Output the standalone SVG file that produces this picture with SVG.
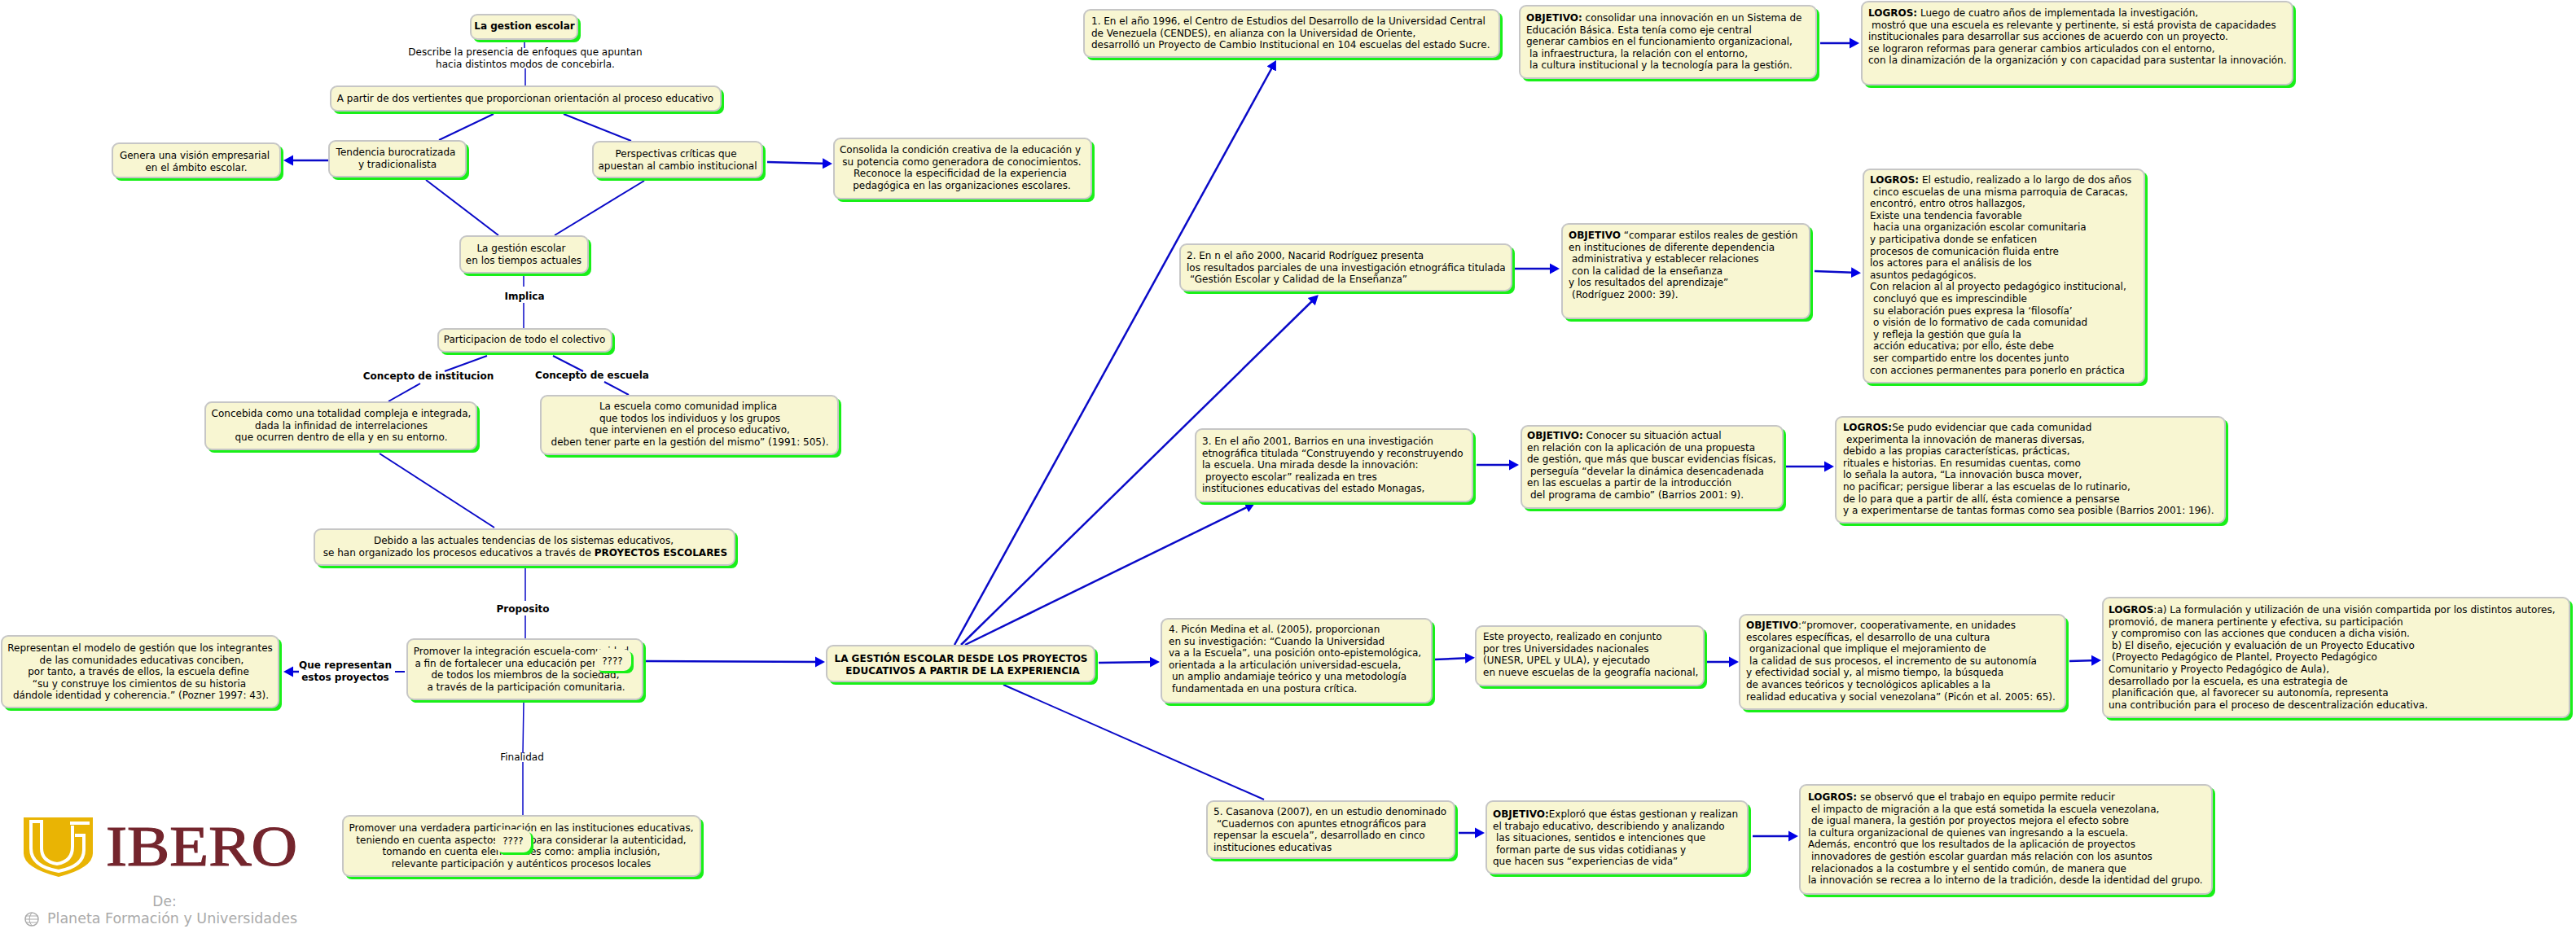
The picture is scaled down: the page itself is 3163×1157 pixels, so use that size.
<svg xmlns="http://www.w3.org/2000/svg" width="3163" height="1157" viewBox="0 0 3163 1157">
<style>
text{font-family:"DejaVu Sans","Liberation Sans",sans-serif;font-size:12px;fill:#000}
.c{text-anchor:middle}
.b{font-weight:bold;fill:#000}
.sh{fill:#18f018}
.box{fill:#f8f6d2;stroke:#c6c6c6;stroke-width:2}
.l{fill:none;stroke:#0a0ac8;stroke-width:2}
.t{fill:none;stroke:#0a0ac8;stroke-width:1.5}
.a{marker-end:url(#ah);stroke-width:2.5}
</style>
<defs>
<marker id="ah" markerUnits="userSpaceOnUse" markerWidth="14" markerHeight="15" refX="8" refY="7" orient="auto" viewBox="0 0 14 15"><path d="M0,0.5L12,7L0,13.5Z" fill="#0000e6"/></marker>
</defs>
<rect width="3163" height="1157" fill="#fff"/>
<g id="connectors">
<path class="t" d="M644,50V59M645,84V105"/>
<path class="l" d="M606,140L539,172M692,140L775,173M523,221L612,289M791,222L681,289"/>
<path class="t" d="M643,338V352M643,372V403"/>
<path class="l" d="M598,437L546,456M516,471L477,493M679,437L716,456M742,469L772,485M466,557L607,648"/>
<path class="t" d="M645,698V738M645,756V784M643,863L642,925M642,936V1001"/>
<path class="l a" d="M403,197H352"/>
<path class="l a" d="M942,199L1018,201"/>
<path class="l" d="M497,825H485"/>
<path class="l a" d="M367,825H352"/>
<path class="l a" d="M793,812L1009,813"/>
<path class="l a" d="M1172,792L1565,77.5"/>
<path class="l a" d="M1180,792L1616,365"/>
<path class="l a" d="M1185,792L1537.4,619.8"/>
<path class="l a" d="M1349,814L1420,813"/>
<path class="l" d="M1232,841L1552,982"/>
<path class="l a" d="M1860,330H1911"/>
<path class="l a" d="M2235,53H2279"/>
<path class="l a" d="M2228,333L2281,335"/>
<path class="l a" d="M1813,571H1861"/>
<path class="l a" d="M2193,573H2248"/>
<path class="l a" d="M1762,810L1807,808"/>
<path class="l a" d="M2095,813H2131"/>
<path class="l a" d="M2541,812L2576,811"/>
<path class="l a" d="M1791,1023H1819"/>
<path class="l a" d="M2152,1027H2204"/>
</g>
<g id="labels">
<text class="c" x="645" y="68">Describe la presencia de enfoques que apuntan<tspan x="645" dy="14.6">hacia distintos modos de concebirla.</tspan></text>
<text class="c b" x="644" y="368">Implica</text>
<text class="c b" x="526" y="466">Concepto de institucion</text>
<text class="c b" x="727" y="465">Concepto de escuela</text>
<text class="c b" x="642" y="752">Proposito</text>
<text class="c b" x="424" y="821">Que representan<tspan x="424" dy="14.6">estos proyectos</tspan></text>
<text class="c" x="641" y="934">Finalidad</text>
</g>
<g id="n1"><rect class="sh" x="581" y="21" width="132" height="31" rx="8"/><rect class="box" x="578" y="18" width="131" height="30" rx="8"/><text class="c b" x="644" y="36">La gestion escolar</text></g>
<g id="n2"><rect class="sh" x="409" y="109" width="480" height="31" rx="8"/><rect class="box" x="406" y="106" width="479" height="30" rx="8"/><text class="c" x="645" y="125">A partir de dos vertientes que proporcionan orientación al proceso educativo</text></g>
<g id="n3"><rect class="sh" x="407" y="176" width="169" height="45" rx="8"/><rect class="box" x="404" y="173" width="168" height="44" rx="8"/><text class="c" x="486" y="191">Tendencia burocratizada<tspan x="488" dy="14.6">y tradicionalista</tspan></text></g>
<g id="n4"><rect class="sh" x="141" y="179" width="207" height="43" rx="8"/><rect class="box" x="138" y="176" width="206" height="42" rx="8"/><text class="c" x="239" y="195">Genera una visión empresarial<tspan x="241" dy="14.6">en el ámbito escolar.</tspan></text></g>
<g id="n5"><rect class="sh" x="731" y="177" width="209" height="45" rx="8"/><rect class="box" x="728" y="174" width="208" height="44" rx="8"/><text class="c" x="830" y="193">Perspectivas críticas que<tspan x="832" dy="14.6">apuestan al cambio institucional</tspan></text></g>
<g id="n6"><rect class="sh" x="1027" y="173" width="317" height="75" rx="8"/><rect class="box" x="1024" y="170" width="316" height="74" rx="8"/><text class="c" x="1179" y="188">Consolida la condición creativa de la educación y<tspan x="1181" dy="14.6">su potencia como generadora de conocimientos.</tspan><tspan x="1179" dy="14.6">Reconoce la especificidad de la experiencia</tspan><tspan x="1181" dy="14.6">pedagógica en las organizaciones escolares.</tspan></text></g>
<g id="n7"><rect class="sh" x="568" y="293" width="158" height="46" rx="8"/><rect class="box" x="565" y="290" width="157" height="45" rx="8"/><text class="c" x="640" y="309">La gestión escolar<tspan x="643" dy="14.6">en los tiempos actuales</tspan></text></g>
<g id="n8"><rect class="sh" x="541" y="407" width="214" height="29" rx="8"/><rect class="box" x="538" y="404" width="213" height="28" rx="8"/><text class="c" x="644" y="421">Participacion de todo el colectivo</text></g>
<g id="n9"><rect class="sh" x="255" y="497" width="334" height="59" rx="8"/><rect class="box" x="252" y="494" width="333" height="58" rx="8"/><text class="c" x="419" y="512">Concebida como una totalidad compleja e integrada,<tspan x="419" dy="14.6">dada la infinidad de interrelaciones</tspan><tspan x="419" dy="14.6">que ocurren dentro de ella y en su entorno.</tspan></text></g>
<g id="n10"><rect class="sh" x="667" y="489" width="366" height="73" rx="8"/><rect class="box" x="664" y="486" width="365" height="72" rx="8"/><text class="c" x="845" y="503">La escuela como comunidad implica<tspan x="847" dy="14.6">que todos los individuos y los grupos</tspan><tspan x="847" dy="14.6">que intervienen en el proceso educativo,</tspan><tspan x="847" dy="14.6">deben tener parte en la gestión del mismo” (1991: 505).</tspan></text></g>
<g id="n11"><rect class="sh" x="389" y="653" width="517" height="45" rx="8"/><rect class="box" x="386" y="650" width="516" height="44" rx="8"/><text class="c" x="643" y="668">Debido a las actuales tendencias de los sistemas educativos,<tspan x="645" dy="14.6">se han organizado los procesos educativos a través de <tspan class="b">PROYECTOS ESCOLARES</tspan></tspan></text></g>
<g id="n12"><rect class="sh" x="5" y="784" width="341" height="89" rx="8"/><rect class="box" x="2" y="781" width="340" height="88" rx="8"/><text class="c" x="172" y="800">Representan el modelo de gestión que los integrantes<tspan x="174" dy="14.6">de las comunidades educativas conciben,</tspan><tspan x="170" dy="14.6">por tanto, a través de ellos, la escuela define</tspan><tspan x="171" dy="14.6">“su y construye los cimientos de su historia</tspan><tspan x="173" dy="14.6">dándole identidad y coherencia.” (Pozner 1997: 43).</tspan></text></g>
<g id="n13"><rect class="sh" x="503" y="788" width="290" height="75" rx="8"/><rect class="box" x="500" y="785" width="289" height="74" rx="8"/><text class="c" x="640" y="804">Promover la integración escuela-comunidad<tspan x="642" dy="14.6">a fin de fortalecer una educación pertinente</tspan><tspan x="645" dy="14.6">de todos los miembros de la sociedad,</tspan><tspan x="646" dy="14.6">a través de la participación comunitaria.</tspan></text></g>
<g id="n14"><rect class="sh" x="734" y="800" width="44" height="27" rx="8"/><rect class="box" style="stroke:#f8f6d2" x="731" y="798" width="43" height="25" rx="8"/><text class="c" x="752" y="816">????</text></g>
<g id="n15"><rect class="sh" x="424" y="1005" width="440" height="75" rx="8"/><rect class="box" x="421" y="1002" width="439" height="74" rx="8"/><text class="c" x="640" y="1021">Promover una verdadera participación en las instituciones educativas,<tspan x="640" dy="14.6">teniendo en cuenta aspectos clave para considerar la autenticidad,</tspan><tspan x="640" dy="14.6">tomando en cuenta elementales como: amplia inclusión,</tspan><tspan x="640" dy="14.6">relevante participación y auténticos procesos locales</tspan></text></g>
<g id="n16"><rect class="sh" x="612" y="1022" width="43" height="28" rx="8"/><rect class="box" style="stroke:#f8f6d2" x="609" y="1020" width="42" height="26" rx="8"/><text class="c" x="630" y="1037">????</text></g>
<g id="n17"><rect class="sh" x="1018" y="796" width="330" height="45" rx="8"/><rect class="box" x="1015" y="793" width="329" height="44" rx="8"/><text class="c b" x="1180" y="813">LA GESTIÓN ESCOLAR DESDE LOS PROYECTOS<tspan x="1182" dy="15">EDUCATIVOS A PARTIR DE LA EXPERIENCIA</tspan></text></g>
<g id="n18"><rect class="sh" x="1334" y="15" width="511" height="59" rx="8"/><rect class="box" x="1331" y="12" width="510" height="58" rx="8"/><text x="1340" y="30">1. En el año 1996, el Centro de Estudios del Desarrollo de la Universidad Central<tspan x="1340" dy="14.6">de Venezuela (CENDES), en alianza con la Universidad de Oriente,</tspan><tspan x="1340" dy="14.6">desarrolló un Proyecto de Cambio Institucional en 104 escuelas del estado Sucre.</tspan></text></g>
<g id="n19"><rect class="sh" x="1869" y="10" width="365" height="90" rx="8"/><rect class="box" x="1866" y="7" width="364" height="89" rx="8"/><text x="1874" y="26"><tspan class="b">OBJETIVO:</tspan> consolidar una innovación en un Sistema de<tspan x="1874" dy="14.6">Educación Básica. Esta tenía como eje central</tspan><tspan x="1874" dy="14.6">generar cambios en el funcionamiento organizacional,</tspan><tspan x="1878" dy="14.6">la infraestructura, la relación con el entorno,</tspan><tspan x="1878" dy="14.6">la cultura institucional y la tecnología para la gestión.</tspan></text></g>
<g id="n20"><rect class="sh" x="2289" y="5" width="530" height="103" rx="8"/><rect class="box" x="2286" y="2" width="529" height="102" rx="8"/><text x="2294" y="20"><tspan class="b">LOGROS:</tspan> Luego de cuatro años de implementada la investigación,<tspan x="2298" dy="14.6">mostró que una escuela es relevante y pertinente, si está provista de capacidades</tspan><tspan x="2294" dy="14.6">institucionales para desarrollar sus acciones de acuerdo con un proyecto.</tspan><tspan x="2294" dy="14.6">se lograron reformas para generar cambios articulados con el entorno,</tspan><tspan x="2294" dy="14.6">con la dinamización de la organización y con capacidad para sustentar la innovación.</tspan></text></g>
<g id="n21"><rect class="sh" x="1452" y="303" width="408" height="58" rx="8"/><rect class="box" x="1449" y="300" width="407" height="57" rx="8"/><text x="1457" y="318">2. En n el año 2000, Nacarid Rodríguez presenta<tspan x="1457" dy="14.6">los resultados parciales de una investigación etnográfica titulada</tspan><tspan x="1461" dy="14.6">“Gestión Escolar y Calidad de la Enseñanza”</tspan></text></g>
<g id="n22"><rect class="sh" x="1921" y="278" width="305" height="117" rx="8"/><rect class="box" x="1918" y="275" width="304" height="116" rx="8"/><text x="1926" y="293"><tspan class="b">OBJETIVO</tspan> “comparar estilos reales de gestión<tspan x="1926" dy="14.6">en instituciones de diferente dependencia</tspan><tspan x="1930" dy="14.6">administrativa y establecer relaciones</tspan><tspan x="1930" dy="14.6">con la calidad de la enseñanza</tspan><tspan x="1926" dy="14.6">y los resultados del aprendizaje”</tspan><tspan x="1930" dy="14.6">(Rodríguez 2000: 39).</tspan></text></g>
<g id="n23"><rect class="sh" x="2291" y="211" width="346" height="263" rx="8"/><rect class="box" x="2288" y="208" width="345" height="262" rx="8"/><text x="2296" y="225"><tspan class="b">LOGROS:</tspan> El estudio, realizado a lo largo de dos años<tspan x="2300" dy="14.6">cinco escuelas de una misma parroquia de Caracas,</tspan><tspan x="2296" dy="14.6">encontró, entro otros hallazgos,</tspan><tspan x="2296" dy="14.6">Existe una tendencia favorable</tspan><tspan x="2300" dy="14.6">hacia una organización escolar comunitaria</tspan><tspan x="2296" dy="14.6">y participativa donde se enfaticen</tspan><tspan x="2296" dy="14.6">procesos de comunicación fluida entre</tspan><tspan x="2296" dy="14.6">los actores para el análisis de los</tspan><tspan x="2296" dy="14.6">asuntos pedagógicos.</tspan><tspan x="2296" dy="14.6">Con relacion al al proyecto pedagógico institucional,</tspan><tspan x="2300" dy="14.6">concluyó que es imprescindible</tspan><tspan x="2300" dy="14.6">su elaboración pues expresa la ‘filosofía’</tspan><tspan x="2300" dy="14.6">o visión de lo formativo de cada comunidad</tspan><tspan x="2300" dy="14.6">y refleja la gestión que guía la</tspan><tspan x="2300" dy="14.6">acción educativa; por ello, éste debe</tspan><tspan x="2300" dy="14.6">ser compartido entre los docentes junto</tspan><tspan x="2296" dy="14.6">con acciones permanentes para ponerlo en práctica</tspan></text></g>
<g id="n24"><rect class="sh" x="1471" y="530" width="341" height="90" rx="8"/><rect class="box" x="1468" y="527" width="340" height="89" rx="8"/><text x="1476" y="546">3. En el año 2001, Barrios en una investigación<tspan x="1476" dy="14.6">etnográfica titulada “Construyendo y reconstruyendo</tspan><tspan x="1476" dy="14.6">la escuela. Una mirada desde la innovación:</tspan><tspan x="1480" dy="14.6">proyecto escolar” realizada en tres</tspan><tspan x="1476" dy="14.6">instituciones educativas del estado Monagas,</tspan></text></g>
<g id="n25"><rect class="sh" x="1871" y="526" width="322" height="102" rx="8"/><rect class="box" x="1868" y="523" width="321" height="101" rx="8"/><text x="1875" y="539"><tspan class="b">OBJETIVO:</tspan> Conocer su situación actual<tspan x="1875" dy="14.6">en relación con la aplicación de una propuesta</tspan><tspan x="1875" dy="14.6">de gestión, que más que buscar evidencias físicas,</tspan><tspan x="1879" dy="14.6">perseguía “develar la dinámica desencadenada</tspan><tspan x="1875" dy="14.6">en las escuelas a partir de la introducción</tspan><tspan x="1879" dy="14.6">del programa de cambio” (Barrios 2001: 9).</tspan></text></g>
<g id="n26"><rect class="sh" x="2257" y="515" width="479" height="131" rx="8"/><rect class="box" x="2254" y="512" width="478" height="130" rx="8"/><text x="2263" y="529"><tspan class="b">LOGROS:</tspan>Se pudo evidenciar que cada comunidad<tspan x="2267" dy="14.6">experimenta la innovación de maneras diversas,</tspan><tspan x="2263" dy="14.6">debido a las propias características, prácticas,</tspan><tspan x="2263" dy="14.6">rituales e historias. En resumidas cuentas, como</tspan><tspan x="2263" dy="14.6">lo señala la autora, “La innovación busca mover,</tspan><tspan x="2263" dy="14.6">no pacificar; persigue liberar a las escuelas de lo rutinario,</tspan><tspan x="2263" dy="14.6">de lo para que a partir de allí, ésta comience a pensarse</tspan><tspan x="2263" dy="14.6">y a experimentarse de tantas formas como sea posible (Barrios 2001: 196).</tspan></text></g>
<g id="n27"><rect class="sh" x="1429" y="763" width="333" height="104" rx="8"/><rect class="box" x="1426" y="760" width="332" height="103" rx="8"/><text x="1435" y="777">4. Picón Medina et al. (2005), proporcionan<tspan x="1435" dy="14.6">en su investigación: “Cuando la Universidad</tspan><tspan x="1435" dy="14.6">va a la Escuela”, una posición onto-epistemológica,</tspan><tspan x="1435" dy="14.6">orientada a la articulación universidad-escuela,</tspan><tspan x="1439" dy="14.6">un amplio andamiaje teórico y una metodología</tspan><tspan x="1439" dy="14.6">fundamentada en una postura crítica.</tspan></text></g>
<g id="n28"><rect class="sh" x="1815" y="772" width="281" height="74" rx="8"/><rect class="box" x="1812" y="769" width="280" height="73" rx="8"/><text x="1821" y="786">Este proyecto, realizado en conjunto<tspan x="1821" dy="14.6">por tres Universidades nacionales</tspan><tspan x="1821" dy="14.6">(UNESR, UPEL y ULA), y ejecutado</tspan><tspan x="1821" dy="14.6">en nueve escuelas de la geografía nacional,</tspan></text></g>
<g id="n29"><rect class="sh" x="2139" y="758" width="401" height="117" rx="8"/><rect class="box" x="2136" y="755" width="400" height="116" rx="8"/><text x="2144" y="772"><tspan class="b">OBJETIVO</tspan>:“promover, cooperativamente, en unidades<tspan x="2144" dy="14.6">escolares específicas, el desarrollo de una cultura</tspan><tspan x="2148" dy="14.6">organizacional que implique el mejoramiento de</tspan><tspan x="2148" dy="14.6">la calidad de sus procesos, el incremento de su autonomía</tspan><tspan x="2144" dy="14.6">y efectividad social y, al mismo tiempo, la búsqueda</tspan><tspan x="2144" dy="14.6">de avances teóricos y tecnológicos aplicables a la</tspan><tspan x="2144" dy="14.6">realidad educativa y social venezolana” (Picón et al. 2005: 65).</tspan></text></g>
<g id="n30"><rect class="sh" x="2585" y="737" width="574" height="148" rx="8"/><rect class="box" x="2582" y="734" width="573" height="147" rx="8"/><text x="2589" y="753"><tspan class="b">LOGROS</tspan>:a) La formulación y utilización de una visión compartida por los distintos autores,<tspan x="2589" dy="14.6">promovió, de manera pertinente y efectiva, su participación</tspan><tspan x="2593" dy="14.6">y compromiso con las acciones que conducen a dicha visión.</tspan><tspan x="2593" dy="14.6">b) El diseño, ejecución y evaluación de un Proyecto Educativo</tspan><tspan x="2593" dy="14.6">(Proyecto Pedagógico de Plantel, Proyecto Pedagógico</tspan><tspan x="2589" dy="14.6">Comunitario y Proyecto Pedagógico de Aula),</tspan><tspan x="2589" dy="14.6">desarrollado por la escuela, es una estrategia de</tspan><tspan x="2593" dy="14.6">planificación que, al favorecer su autonomía, representa</tspan><tspan x="2589" dy="14.6">una contribución para el proceso de descentralización educativa.</tspan></text></g>
<g id="n31"><rect class="sh" x="1485" y="987" width="305" height="71" rx="8"/><rect class="box" x="1482" y="984" width="304" height="70" rx="8"/><text x="1490" y="1001">5. Casanova (2007), en un estudio denominado<tspan x="1494" dy="14.6">“Cuadernos con apuntes etnográficos para</tspan><tspan x="1490" dy="14.6">repensar la escuela”, desarrollado en cinco</tspan><tspan x="1490" dy="14.6">instituciones educativas</tspan></text></g>
<g id="n32"><rect class="sh" x="1828" y="987" width="322" height="90" rx="8"/><rect class="box" x="1825" y="984" width="321" height="89" rx="8"/><text x="1833" y="1004"><tspan class="b">OBJETIVO:</tspan>Exploró que éstas gestionan y realizan<tspan x="1833" dy="14.6">el trabajo educativo, describiendo y analizando</tspan><tspan x="1837" dy="14.6">las situaciones, sentidos e intenciones que</tspan><tspan x="1837" dy="14.6">forman parte de sus vidas cotidianas y</tspan><tspan x="1833" dy="14.6">que hacen sus “experiencias de vida”</tspan></text></g>
<g id="n33"><rect class="sh" x="2213" y="967" width="507" height="135" rx="8"/><rect class="box" x="2210" y="964" width="506" height="134" rx="8"/><text x="2220" y="983"><tspan class="b">LOGROS:</tspan> se observó que el trabajo en equipo permite reducir<tspan x="2224" dy="14.6">el impacto de migración a la que está sometida la escuela venezolana,</tspan><tspan x="2224" dy="14.6">de igual manera, la gestión por proyectos mejora el efecto sobre</tspan><tspan x="2220" dy="14.6">la cultura organizacional de quienes van ingresando a la escuela.</tspan><tspan x="2220" dy="14.6">Además, encontró que los resultados de la aplicación de proyectos</tspan><tspan x="2224" dy="14.6">innovadores de gestión escolar guardan más relación con los asuntos</tspan><tspan x="2224" dy="14.6">relacionados a la costumbre y el sentido común, de manera que</tspan><tspan x="2220" dy="14.6">la innovación se recrea a lo interno de la tradición, desde la identidad del grupo.</tspan></text></g>
<g id="logo">
<path d="M29,1004H114V1048Q114,1066 72,1077Q29,1066 29,1048Z" fill="#e9b404"/>
<path d="M38,1008V1042Q38,1064 72,1070Q103,1064 103,1044V1026H92M51,1008V1042Q51,1058 70,1061Q89,1058 89,1040V1014" fill="none" stroke="#fff" stroke-width="4"/>
<path d="M36,1009H53M86,1011H110" fill="none" stroke="#fff" stroke-width="4"/>
<text x="130" y="1063" textLength="235" lengthAdjust="spacingAndGlyphs" style="font-family:'Liberation Serif',serif;font-size:70px;fill:#74252d;stroke:#74252d;stroke-width:1.2">IBERO</text>
<text class="c" x="202" y="1113" style="font-size:17px;fill:#aaa">De:</text>
<circle cx="39" cy="1129" r="8" fill="none" stroke="#aaa" stroke-width="1.5"/>
<path d="M31,1125H47M31,1129H47M32,1133H46M39,1121Q33,1129 39,1137" fill="none" stroke="#aaa"/>
<text x="58" y="1134" textLength="307" lengthAdjust="spacingAndGlyphs" style="font-size:17px;fill:#aaa">Planeta Formación y Universidades</text>
</g>
</svg>
